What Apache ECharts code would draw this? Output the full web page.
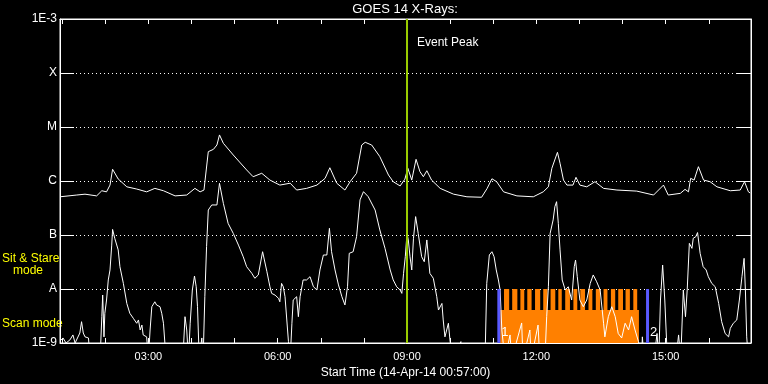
<!DOCTYPE html>
<html><head><meta charset="utf-8">
<script src="https://cdn.jsdelivr.net/npm/echarts@6/dist/echarts.min.js"></script>
<style>html,body{margin:0;padding:0;background:#000}#c{width:768px;height:384px}</style>
</head><body><div id="c"></div>
<script>
// time in decimal hours (14-Apr-14), flux in W/m^2
const longChannel = [
[0.95,5.1e-7],[1.34,5.5e-7],[1.53,5.7e-7],[1.80,5.3e-7],[1.92,6.6e-7],[2.03,6.3e-7],[2.11,8.4e-7],[2.17,1.65e-6],[2.30,1.09e-6],[2.50,7.8e-7],
[2.73,7.1e-7],[2.96,6.3e-7],[3.15,7.3e-7],[3.35,6.6e-7],[3.62,5.3e-7],[3.89,5.5e-7],[4.08,7.3e-7],[4.20,6.3e-7],[4.29,6.8e-7],[4.39,3.49e-6],
[4.51,3.86e-6],[4.59,4.64e-6],[4.65,7.13e-6],[4.74,4.99e-6],[4.97,3.03e-6],[5.28,1.6e-6],[5.43,1.2e-6],[5.63,1.39e-6],[5.82,1.04e-6],[6.05,8.4e-7],
[6.29,9.1e-7],[6.44,6.8e-7],[6.67,7.3e-7],[6.91,8.4e-7],[7.10,1.12e-6],[7.21,1.76e-6],[7.37,9.1e-7],[7.56,6.8e-7],[7.68,9.7e-7],[7.83,1.39e-6],
[7.95,4.64e-6],[8.03,5.21e-6],[8.18,4.64e-6],[8.37,2.82e-6],[8.57,1.29e-6],[8.68,9.7e-7],[8.84,8.1e-7],[8.95,1.08e-6],[9.02,1.72e-6],[9.11,1.04e-6],
[9.21,2.52e-6],[9.30,1.49e-6],[9.38,1.2e-6],[9.46,1.55e-6],[9.57,1.04e-6],[9.77,7.3e-7],[10.08,5.7e-7],[10.39,5.1e-7],[10.73,5.0e-7],[10.86,7.3e-7],
[10.97,1.1e-6],[11.08,9.7e-7],[11.24,6.3e-7],[11.55,5.3e-7],[11.93,5.1e-7],[12.16,6.3e-7],[12.28,7.8e-7],[12.36,1.72e-6],[12.49,3.4e-6],[12.55,2.13e-6],
[12.63,1.04e-6],[12.71,8.4e-7],[12.85,8.4e-7],[12.92,1.17e-6],[13.01,8.4e-7],[13.17,7.8e-7],[13.36,9.7e-7],[13.56,7.3e-7],[13.87,6.8e-7],[14.33,6.5e-7],
[14.72,5.5e-7],[14.95,8.4e-7],[15.06,5.5e-7],[15.34,5.9e-7],[15.45,7.0e-7],[15.53,6.3e-7],[15.58,1.12e-6],[15.66,1.04e-6],[15.76,1.84e-6],[15.88,1.04e-6],
[16.03,9.7e-7],[16.19,7.8e-7],[16.50,6.6e-7],[16.73,6.8e-7],[16.83,9.7e-7],[16.92,6.3e-7],[16.96,6.0e-7]
];
const shortChannel = [
[0.95,1.09e-9],[1.02,1.24e-9],[1.09,1.0e-9],[1.18,1.14e-9],[1.25,1.41e-9],[1.30,1.0e-9],[1.41,1.53e-9],[1.45,2.48e-9],[1.49,1.53e-9],[1.53,1.3e-9],
[1.61,1.24e-9],[1.65,5e-10],[1.88,5e-10],[1.92,3.07e-9],[1.94,7.74e-9],[1.97,1.3e-9],[1.99,3.55e-9],[2.03,6.25e-9],[2.07,1.47e-8],[2.11,2.25e-8],
[2.15,6.5e-8],[2.17,1.27e-7],[2.22,8.7e-8],[2.30,5.3e-8],[2.34,2.59e-8],[2.42,1.27e-8],[2.50,5.4e-9],[2.57,3.55e-9],[2.65,2.87e-9],[2.73,2.32e-9],
[2.77,2.67e-9],[2.81,1.74e-9],[2.85,2.15e-9],[2.88,1.41e-9],[2.96,1.3e-9],[3.00,5e-10],[3.04,1.74e-9],[3.08,4.7e-9],[3.15,5.8e-9],[3.19,5.06e-9],
[3.27,4.7e-9],[3.31,3.55e-9],[3.35,2.32e-9],[3.41,5e-10],[3.80,5e-10],[3.85,3.07e-9],[3.89,1.74e-9],[3.93,5e-10],[3.97,2.32e-9],[4.02,9.6e-9],
[4.07,1.74e-8],[4.11,1.1e-8],[4.14,4.7e-9],[4.18,5e-10],[4.24,1.24e-9],[4.27,5e-10],[4.31,7.2e-9],[4.35,6.1e-8],[4.39,2.9e-7],[4.47,3.6e-7],
[4.59,3.6e-7],[4.65,9.06e-7],[4.74,3.85e-7],[4.85,1.64e-7],[4.97,1.07e-7],[5.09,6.5e-8],[5.20,3.96e-8],[5.28,2.59e-8],[5.40,1.95e-8],[5.47,1.58e-8],
[5.55,1.82e-8],[5.65,4.9e-8],[5.75,2.09e-8],[5.82,1.1e-8],[5.86,8.3e-9],[5.94,7.7e-9],[6.02,6.7e-9],[6.05,5.8e-9],[6.09,1.27e-8],[6.13,1.1e-8],
[6.17,7.2e-9],[6.21,7.2e-9],[6.25,1.06e-9],[6.29,5e-10],[6.33,2.32e-9],[6.36,6.25e-9],[6.44,7.2e-9],[6.48,3.07e-9],[6.52,7.2e-9],[6.59,1.47e-8],
[6.67,1.47e-8],[6.75,1.69e-8],[6.83,1.1e-8],[6.91,9.6e-9],[6.98,2.25e-8],[7.06,4.26e-8],[7.14,4.26e-8],[7.20,1.33e-7],[7.25,4.9e-8],[7.33,2.25e-8],
[7.41,1.19e-8],[7.49,7.2e-9],[7.56,5.06e-9],[7.62,1.1e-8],[7.66,4.58e-8],[7.75,4.9e-8],[7.83,9.3e-8],[7.91,4.47e-7],[7.99,6.34e-7],[8.10,5.13e-7],
[8.26,2.9e-7],[8.37,1.24e-7],[8.49,5.66e-8],[8.61,2.25e-8],[8.68,1.47e-8],[8.76,1.1e-8],[8.84,9.6e-9],[8.88,8.3e-9],[8.92,1.95e-8],[8.96,3.96e-8],
[9.00,1.07e-7],[9.03,8.1e-8],[9.07,3.96e-8],[9.11,2.25e-8],[9.15,8.7e-8],[9.20,2.19e-7],[9.26,1.07e-7],[9.34,3.96e-8],[9.40,3.2e-8],[9.46,8.1e-8],
[9.53,1.95e-8],[9.61,1.58e-8],[9.69,7.2e-9],[9.73,4.08e-9],[9.81,5.4e-9],[9.84,2.67e-9],[9.88,1.3e-9],[9.96,2.32e-9],[10.00,1.06e-9],[10.07,5e-10],
[10.25,1.06e-9],[10.28,5e-10],[10.81,5e-10],[10.85,1.27e-8],[10.91,4.26e-8],[10.97,4.9e-8],[11.02,3.96e-8],[11.07,2.25e-8],[11.12,1.47e-8],[11.16,9.6e-9],
[11.20,1.74e-9],[11.27,5e-10],[11.39,1.41e-9],[11.43,5e-10],[11.66,2.35e-9],[11.69,5e-10],[11.85,1.74e-9],[11.88,5e-10],[12.04,2.15e-9],[12.08,5e-10],
[12.20,5e-10],[12.24,3.07e-9],[12.28,1.1e-8],[12.32,1.07e-7],[12.39,1.9e-7],[12.43,3.34e-7],[12.47,4.14e-7],[12.51,1.64e-7],[12.55,5.3e-8],[12.60,1.47e-8],
[12.67,9.6e-9],[12.74,1.1e-8],[12.82,6.25e-9],[12.88,2.59e-8],[12.91,3.44e-8],[12.95,1.69e-8],[13.01,6.25e-9],[13.09,4.7e-9],[13.17,6.25e-9],[13.25,1.27e-8],
[13.32,1.82e-8],[13.40,1.36e-8],[13.48,9.6e-9],[13.56,2.32e-9],[13.59,1.3e-9],[13.67,3.07e-9],[13.75,4.7e-9],[13.83,3.07e-9],[13.90,1.5e-9],[13.98,1.24e-9],
[14.06,2.32e-9],[14.14,1.74e-9],[14.21,3.07e-9],[14.29,1.74e-9],[14.37,1.06e-9],[14.44,5e-10],[14.46,1.3e-9],[14.50,5e-10],[14.73,5e-10],[14.80,1.5e-9],
[14.84,5e-10],[14.88,6.25e-9],[14.93,2.78e-8],[14.98,6.25e-9],[15.04,5e-10],[15.24,5e-10],[15.30,1.41e-9],[15.35,5e-10],[15.41,9.6e-9],[15.46,3.07e-9],
[15.50,9.6e-9],[15.55,7.0e-8],[15.61,5.66e-8],[15.64,8.7e-8],[15.70,9.3e-8],[15.74,1.11e-7],[15.80,4.58e-8],[15.87,2.59e-8],[15.94,2.25e-8],[15.99,1.69e-8],
[16.07,1.27e-8],[16.15,1.1e-8],[16.23,5.4e-9],[16.30,2.48e-9],[16.38,1.5e-9],[16.46,1.3e-9],[16.50,1.87e-9],[16.57,2.32e-9],[16.65,2.67e-9],[16.71,6.25e-9],
[16.77,1.69e-8],[16.82,3.7e-8],[16.85,9.6e-9],[16.88,1.3e-9],[16.92,5e-10],[16.98,5e-10]
];
// observing mode timeline (hours)
const scanSegments = [[11.16, 14.38]];
const stareSegments = [
[11.25,11.37],[11.44,11.56],[11.63,11.72],[11.79,11.89],[11.97,12.09],[12.16,12.26],
[12.33,12.44],[12.51,12.59],[12.67,12.78],[12.86,12.95],[13.02,13.13],[13.21,13.30],
[13.38,13.48],[13.56,13.65],[13.73,13.83],[13.90,14.01],[14.07,14.17],[14.25,14.34]
];
const SCAN_LEVEL = 4.1e-9, STARE_LEVEL = 1e-8, FLOOR = 1e-9, CEIL = 1e-3;
const markerTimes = [11.13, 14.58];
const markerLabels = ['1', '2'];
const eventPeakTime = 9.0;
const hourTicks = [1,2,3,4,5,6,7,8,9,10,11,12,13,14,15,16];
const labelHours = [3,6,9,12,15];
const yTickLabels = {'-9':'1E-9','-8':'A','-7':'B','-6':'C','-5':'M','-4':'X','-3':'1E-3'};

const FONT = 'Liberation Sans';
const modeData = scanSegments.map(s => [s[0], s[1], SCAN_LEVEL])
  .concat(stareSegments.map(s => [s[0], s[1], STARE_LEVEL]));

const chart = echarts.init(document.getElementById('c'), null, {renderer: 'canvas'});
const xCommon = {type: 'value', min: 0.95, max: 16.98,
  axisLine: {lineStyle: {color: '#fff', width: 1}},
  axisTick: {inside: true, length: 5, customValues: hourTicks, lineStyle: {color: '#fff'}},
  splitLine: {show: false}};
const yCommon = {type: 'log', logBase: 10, min: FLOOR, max: CEIL, splitNumber: 6,
  axisLine: {lineStyle: {color: '#fff', width: 1}},
  axisTick: {inside: true, length: 14, lineStyle: {color: '#fff'}},
  minorTick: {show: false}};

chart.setOption({
  animation: false,
  backgroundColor: '#000',
  grid: {left: 60, right: 17, top: 19, bottom: 41, show: true, borderColor: '#fff', borderWidth: 1, backgroundColor: 'transparent'},
  xAxis: [
    Object.assign({}, xCommon, {position: 'bottom',
      axisLabel: {customValues: labelHours, color: '#fff', fontFamily: FONT, fontSize: 11, margin: 8,
        formatter: v => String(Math.round(v)).padStart(2, '0') + ':00'},
      name: 'Start Time (14-Apr-14 00:57:00)', nameLocation: 'middle', nameGap: 21,
      nameTextStyle: {color: '#fff', fontFamily: FONT, fontSize: 12}}),
    Object.assign({}, xCommon, {position: 'top', axisLabel: {show: false}})
  ],
  yAxis: [
    Object.assign({}, yCommon, {position: 'left',
      axisLabel: {color: '#fff', fontFamily: FONT, fontSize: 12, margin: 3,
        formatter: v => yTickLabels[String(Math.round(Math.log10(v)))] || ''},
      splitLine: {show: true, lineStyle: {color: '#fff', width: 1, type: [1, 3]}}}),
    Object.assign({}, yCommon, {position: 'right', axisLabel: {show: false}, splitLine: {show: false}})
  ],
  graphic: [
    {type: 'text', x: 405, y: 9, style: {text: 'GOES 14 X-Rays:', fill: '#fff', font: '13px ' + FONT, textAlign: 'center', align: 'center', textVerticalAlign: 'middle', verticalAlign: 'middle'}},
    {type: 'text', x: 2, y: 259, style: {text: 'Sit & Stare', fill: '#ffff00', font: '12px ' + FONT, textVerticalAlign: 'middle', verticalAlign: 'middle'}},
    {type: 'text', x: 13, y: 271, style: {text: 'mode', fill: '#ffff00', font: '12px ' + FONT, textVerticalAlign: 'middle', verticalAlign: 'middle'}},
    {type: 'text', x: 2, y: 324, style: {text: 'Scan mode', fill: '#ffff00', font: '12px ' + FONT, textVerticalAlign: 'middle', verticalAlign: 'middle'}}
  ],
  series: [
    {type: 'custom', name: 'mode', z: 1, clip: true, data: modeData,
      encode: {x: [0, 1], y: 2},
      renderItem: (params, api) => {
        const p0 = api.coord([api.value(0), api.value(2)]);
        const p1 = api.coord([api.value(1), FLOOR]);
        return {type: 'rect', shape: {x: p0[0], y: p0[1], width: p1[0] - p0[0], height: p1[1] - p0[1]},
          style: {fill: '#ff8000'}};
      }},
    {type: 'line', name: 'long', z: 2, data: longChannel, symbol: 'none', clip: true,
      lineStyle: {color: '#fff', width: 1}},
    {type: 'line', name: 'short', z: 2, data: shortChannel, symbol: 'none', clip: true,
      lineStyle: {color: '#fff', width: 1}},
    {type: 'custom', name: 'markers', z: 3, data: markerTimes.map((t, i) => [t, i]),
      encode: {x: 0},
      renderItem: (params, api) => {
        const top = api.coord([api.value(0), STARE_LEVEL]);
        const bot = api.coord([api.value(0), FLOOR]);
        return {type: 'group', children: [
          {type: 'rect', shape: {x: top[0] - 1.5, y: top[1], width: 3, height: bot[1] - top[1]}, style: {fill: '#5a5aff'}},
          {type: 'text', x: top[0] + 2.5, y: bot[1] - 11,
            style: {text: markerLabels[api.value(1)], fill: '#fff', font: '13px ' + FONT, align: 'left', verticalAlign: 'middle'}}
        ]};
      }},
    {type: 'custom', name: 'event', z: 4, data: [[eventPeakTime]],
      encode: {x: 0},
      renderItem: (params, api) => {
        const top = api.coord([api.value(0), CEIL]);
        const bot = api.coord([api.value(0), FLOOR]);
        return {type: 'group', children: [
          {type: 'rect', shape: {x: top[0] - 1, y: top[1], width: 2, height: bot[1] - top[1]}, style: {fill: '#9acd00'}},
          {type: 'text', x: top[0] + 10, y: top[1] + 24,
            style: {text: 'Event Peak', fill: '#fff', font: '12px ' + FONT, align: 'left', verticalAlign: 'middle'}}
        ]};
      }}
  ]
});
</script></body></html>
